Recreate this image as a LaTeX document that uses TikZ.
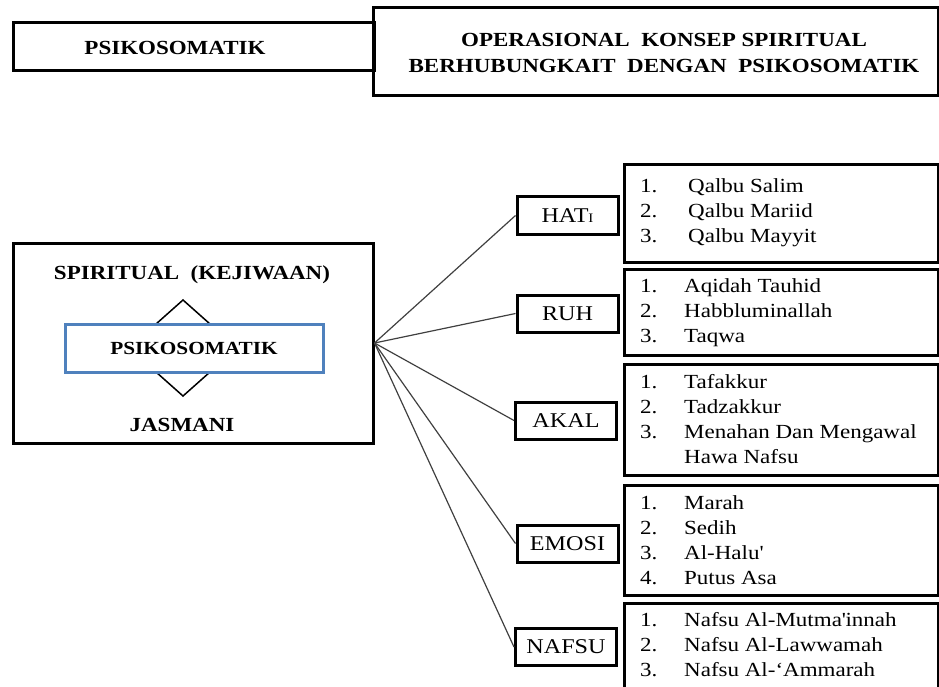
\documentclass[tikz,border=0pt]{standalone}
\usepackage{fontspec}
\setmainfont{Liberation Serif}[FakeStretch=1.15]
\definecolor{boxblue}{RGB}{79,129,189}
\tikzset{
  thickbox/.style={draw, line width=3pt, inner sep=0pt},
  keybox/.style={thickbox, minimum width=101pt, minimum height=37pt, font=\fontsize{21}{23}\selectfont},
  listbox/.style={thickbox, minimum width=314pt},
  itemlist/.style={anchor=base west, inner sep=0pt, font=\fontsize{20}{25}\selectfont},
  head/.style={font=\fontsize{20}{26}\selectfont\bfseries, align=center},
  fan/.style={draw=black!75, line width=1.2pt}
}
\begin{document}
\begin{tikzpicture}[x=1pt, y=-1pt]
\useasboundingbox (0,0) rectangle (939,687);
\clip (0,0) rectangle (939,687);

% heading row
\node[thickbox, minimum width=361pt, minimum height=48pt] (headL) at (193.5,47) {};
\node[head] (headLtxt) at (175,48) {PSIKOSOMATIK};
\node[thickbox, minimum width=565pt, minimum height=88pt] (headR) at (655.5,52) {};
\node[head] (headRtxt) at (664,53) {OPERASIONAL\ \ KONSEP SPIRITUAL\\BERHUBUNGKAIT\ \ DENGAN\ \ PSIKOSOMATIK};

% left block
\node[thickbox, minimum width=360pt, minimum height=200pt] (main) at (193,343) {};
\node[head] (spirit) at (192,275) {SPIRITUAL\ \ (KEJIWAAN)};
\draw[line width=1.5pt] (183,300) -- (237,348) -- (183,396) -- (129,348) -- cycle;
\node[thickbox, draw=boxblue, fill=white, minimum width=258pt, minimum height=48pt,
      font=\fontsize{18.5}{22}\selectfont\bfseries] (psiko) at (194,348) {PSIKOSOMATIK};
\node[head] (jasmani) at (182,425) {JASMANI};

% keys
\node[keybox] (hati)  at (567.5,215.5) {HAT{\fontsize{13}{13}\selectfont I}};
\node[keybox] (ruh)   at (567.5,313.5) {RUH};
\node[keybox] (akal)  at (566,420.5)   {AKAL};
\node[keybox] (emosi) at (567.5,543.5) {EMOSI};
\node[keybox] (nafsu) at (566,647)     {NAFSU};

\foreach \k in {hati,ruh,akal,emosi,nafsu}
  \draw[fan] (main.east) -- (\k.west);

% lists
\node[listbox, minimum height=97pt]  (lhati)  at (781,213.5) {};
\node[listbox, minimum height=86pt]  (lruh)   at (781,312)   {};
\node[listbox, minimum height=111pt] (lakal)  at (781,419.5) {};
\node[listbox, minimum height=110pt] (lemosi) at (781,540)   {};
\node[listbox, minimum height=100pt] (lnafsu) at (781,653)   {};

\node[itemlist] (ihati) at (640,193) {\begin{tabular}[t]{@{}p{48pt}@{}l@{}}
  1. & Qalbu Salim\\ 2. & Qalbu Mariid\\ 3. & Qalbu Mayyit\end{tabular}};
\node[itemlist] (iruh) at (640,292) {\begin{tabular}[t]{@{}p{44pt}@{}l@{}}
  1. & Aqidah Tauhid\\ 2. & Habbluminallah\\ 3. & Taqwa\end{tabular}};
\node[itemlist] (iakal) at (640,388) {\begin{tabular}[t]{@{}p{44pt}@{}l@{}}
  1. & Tafakkur\\ 2. & Tadzakkur\\ 3. & Menahan Dan Mengawal\\ & Hawa Nafsu\end{tabular}};
\node[itemlist] (iemosi) at (640,509) {\begin{tabular}[t]{@{}p{44pt}@{}l@{}}
  1. & Marah\\ 2. & Sedih\\ 3. & Al-Halu\textquotesingle\\ 4. & Putus Asa\end{tabular}};
\node[itemlist] (inafsu) at (640,626) {\begin{tabular}[t]{@{}p{44pt}@{}l@{}}
  1. & Nafsu Al-Mutma\textquotesingle innah\\ 2. & Nafsu Al-Lawwamah\\ 3. & Nafsu Al-‘Ammarah\end{tabular}};
\end{tikzpicture}
\end{document}
